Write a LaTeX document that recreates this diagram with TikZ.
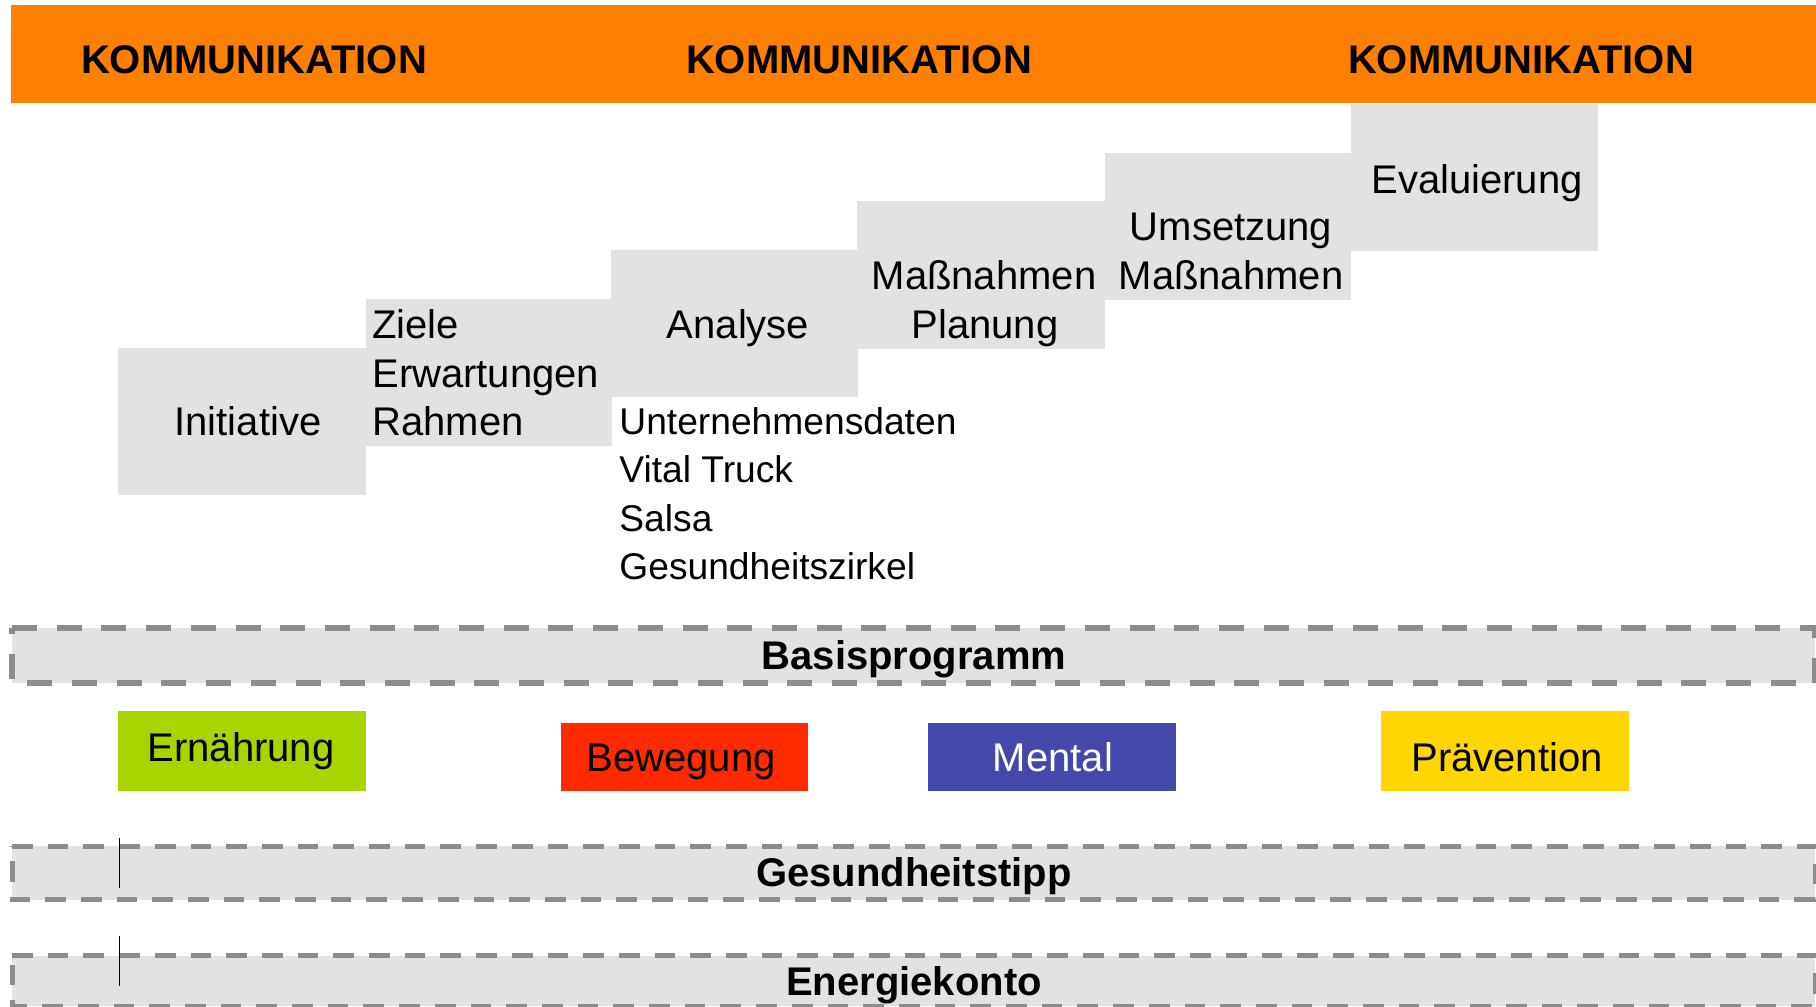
\documentclass[tikz,border=0pt]{standalone}
\usepackage{fontspec}
\setmainfont{Liberation Sans}
\definecolor{orangebar}{RGB}{255,127,0}
\definecolor{boxgray}{RGB}{226,226,226}
\definecolor{dashgray}{RGB}{140,140,140}
\definecolor{greenbox}{RGB}{168,212,0}
\definecolor{redbox}{RGB}{255,42,0}
\definecolor{bluebox}{RGB}{68,72,170}
\definecolor{yellowbox}{RGB}{255,214,0}
\tikzset{
  stepbox/.style={fill=boxgray},
  lbl/.style={inner sep=0pt, font=\fontsize{20}{24.3}\selectfont},
  lst/.style={inner sep=0pt, anchor=base west, font=\fontsize{18.6}{24.3}\selectfont},
  hdr/.style={inner sep=0pt, anchor=base, font=\fontsize{20}{24.3}\selectfont\bfseries},
  bandone/.style={fill=boxgray, draw=dashgray, line width=2.65pt, dash pattern=on 12.5pt off 9.85pt},
  bandtwo/.style={fill=boxgray, draw=dashgray, line width=2.5pt, dash pattern=on 10.35pt off 7.5pt},
  tick/.style={draw=black, line width=0.6pt},
}
\begin{document}
\begin{tikzpicture}[x=0.5pt,y=-0.5pt]
\useasboundingbox (0,0) rectangle (1816,1007);
\fill[white] (0,0) rectangle (1816,1007);
% header bar
\fill[orangebar] (11,5) rectangle (1816,103);
\node[hdr] (k1) at (254,73) {KOMMUNIKATION};
\node[hdr] (k2) at (859,73) {KOMMUNIKATION};
\node[hdr] (k3) at (1521,73) {KOMMUNIKATION};
% staircase
\fill[stepbox] (118,348) rectangle (366,495);
\fill[stepbox] (366,299) rectangle (612,446);
\fill[stepbox] (611,250) rectangle (858,397);
\fill[stepbox] (857,201) rectangle (1105,349);
\fill[stepbox] (1105,153) rectangle (1351,300);
\fill[stepbox] (1351,104) rectangle (1598,251);
\node[lbl, anchor=base] (init) at (248,435) {Initiative};
\node[lbl, anchor=base west] (ziele) at (372,338) {Ziele};
\node[lbl, anchor=base west] (erw) at (372,387) {Erwartungen};
\node[lbl, anchor=base west] (rahmen) at (372,435) {Rahmen};
\node[lbl, anchor=base] (analyse) at (738,338) {Analyse};
\node[lst] (u1) at (619,434) {Unternehmensdaten};
\node[lst] (u2) at (619,482.5) {Vital Truck};
\node[lst] (u3) at (619,531) {Salsa};
\node[lst] (u4) at (619,579.5) {Gesundheitszirkel};
\node[lbl, anchor=base] (mp1) at (984,289) {Maßnahmen};
\node[lbl, anchor=base] (mp2) at (985,338) {Planung};
\node[lbl, anchor=base] (um1) at (1231,240) {Umsetzung};
\node[lbl, anchor=base] (um2) at (1231,289) {Maßnahmen};
\node[lbl, anchor=base] (eval) at (1477,193) {Evaluierung};
% Basisprogramm band
\path[bandone] (12,628) -- (1815,628) -- (1815,683) -- (12,683) -- cycle;
\node[hdr] (basis) at (914,669) {Basisprogramm};
% coloured boxes
\fill[greenbox] (118,711) rectangle (366,791);
\node[lbl, anchor=base] (ern) at (241,761) {Ernährung};
\fill[redbox] (561,723) rectangle (808,791);
\node[lbl, anchor=base] (bew) at (681,771) {Bewegung};
\fill[bluebox] (928,723) rectangle (1176,791);
\node[lbl, anchor=base, text=white] (mental) at (1053,771) {Mental};
\fill[yellowbox] (1381,711) rectangle (1629,791);
\node[lbl, anchor=base] (prae) at (1507,771) {Prävention};
% lower bands
\path[bandtwo] (12,846) -- (1815,846) -- (1815,899.5) -- (12,899.5) -- cycle;
\node[hdr] (tipp) at (914,886) {Gesundheitstipp};
\path[bandtwo] (12,955.5) -- (1815,955.5) -- (1815,1006) -- (12,1006) -- cycle;
\node[hdr] (energie) at (914,995.5) {Energiekonto};
% small ticks
\coordinate (t1a) at (119.3,838.3);
\coordinate (t1b) at (119.3,887.7);
\coordinate (t2a) at (119.3,936);
\coordinate (t2b) at (119.3,985.7);
\draw[tick] (t1a) -- (t1b);
\draw[tick] (t2a) -- (t2b);
\end{tikzpicture}
\end{document}
